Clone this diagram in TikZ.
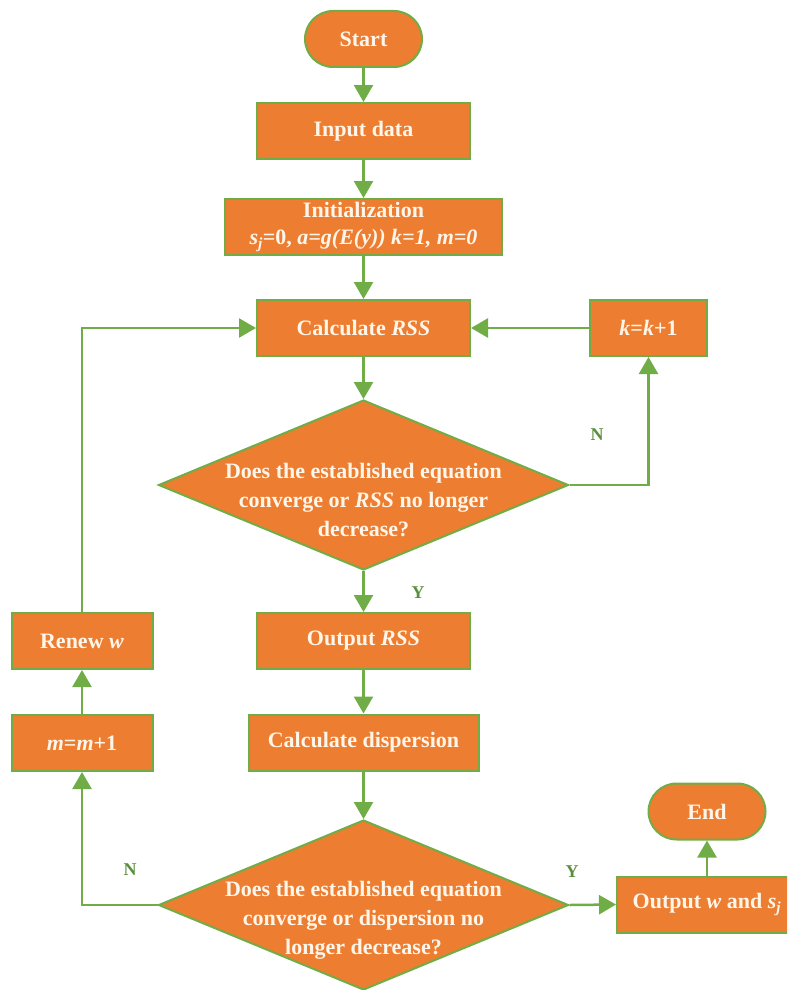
\documentclass[tikz,border=0pt]{standalone}
\usepackage{fontspec}
\setmainfont{Liberation Serif}
\usetikzlibrary{shapes.geometric,shapes.misc,arrows.meta}
\definecolor{boxfill}{HTML}{ED7D31}
\definecolor{boxline}{HTML}{70AD47}
\definecolor{labelgreen}{HTML}{5A8F3C}
\definecolor{boxtext}{HTML}{FFF6EA}

\begin{document}
\begin{tikzpicture}[x=1pt,y=-1pt,
  base/.style={draw=boxline, line width=2pt, fill=boxfill, text=boxtext,
    font=\fontsize{22}{27}\selectfont\bfseries, inner sep=0pt, align=center},
  procbox/.style={base, rectangle, minimum width=#1, minimum height=56pt},
  termbox/.style={base, rounded rectangle, minimum width=117pt, minimum height=56pt},
  decbox/.style={base, diamond, minimum width=410pt, minimum height=170pt},
  dectext/.style={text=boxtext, font=\fontsize{22}{29}\selectfont\bfseries,
    align=center, inner sep=0pt},
  flow/.style={draw=boxline, line width=2.5pt, -{Triangle[width=19pt,length=17pt]}},
  branch/.style={text=labelgreen, font=\fontsize{18}{20}\selectfont\bfseries, inner sep=0pt}
]
\clip (0,0) rectangle (787,990);

% main column
\node[termbox] (start) at (363.5,39) {Start};
\node[procbox=213pt] (input) at (363.5,131) {Input data};
\node[procbox=277pt] (init) at (363.5,227)
  {Initialization\\{\itshape s\textsubscript{j}}=0, {\itshape a=g(E(y)) k=1, m=0}};
\node[procbox=213pt] (calc) at (363.5,328) {Calculate \textit{RSS}};
\node[decbox] (d1) at (363.5,485) {};
\node[dectext] (d1t) at (363.5,500)
  {Does the established equation\\converge or \textit{RSS} no longer\\decrease?};
\node[procbox=213pt] (outrss) at (363.5,641) {Output \textit{RSS}};
\node[procbox=230pt] (disp) at (363.5,742.5) {Calculate dispersion};
\node[decbox] (d2) at (363.5,905) {};
\node[dectext] (d2t) at (363.5,920)
  {Does the established equation\\converge or dispersion no\\longer decrease?};

% side boxes
\node[procbox=117pt] (kk) at (648.5,328) {\textit{k}=\textit{k}+1};
\node[procbox=141pt] (renew) at (82,641) {Renew \textit{w}};
\node[procbox=141pt] (mm) at (82,743) {\textit{m}=\textit{m}+1};
\node[procbox=180pt] (outw) at (707,904.5) {Output \textit{w} and \textit{s\textsubscript{j}}};
\node[termbox] (end) at (707,811.5) {End};

% branch labels
\node[branch] (n1) at (597,435) {N};
\node[branch] (y1) at (418,593) {Y};
\node[branch] (n2) at (130,870) {N};
\node[branch] (y2) at (572,872) {Y};

% connectors
\draw[flow] (start) -- (input);
\draw[flow] (input) -- (init);
\draw[flow] (init) -- (calc);
\draw[flow] (calc) -- (d1.north);
\draw[flow] (kk.west) -- (calc.east);
\draw[flow] (d1.east) -| (kk.south);
\draw[flow] (d1.south) -- (outrss.north);
\draw[flow] (outrss) -- (disp);
\draw[flow] (disp) -- (d2.north);
\draw[flow] (d2.west) -| (mm.south);
\draw[flow] (mm) -- (renew);
\draw[flow] (renew.north) |- (calc.west);
\draw[flow] (d2.east) -- (outw.west);
\draw[flow] (outw.north) -- (end.south);
\end{tikzpicture}
\end{document}
